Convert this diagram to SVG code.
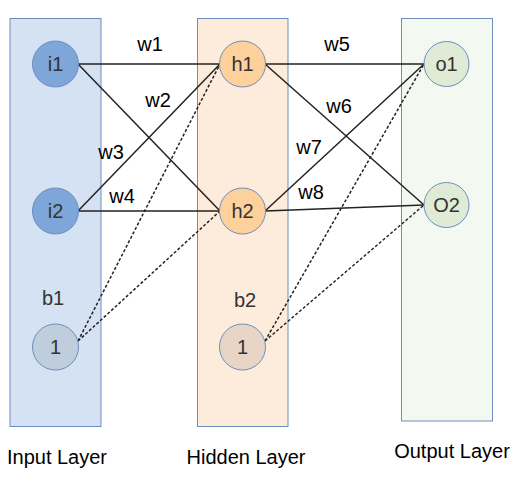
<svg xmlns="http://www.w3.org/2000/svg" width="521" height="481" viewBox="0 0 521 481">
<style>
.layer{stroke:#6c8ebf;stroke-width:1}
.node{stroke:#6c8ebf;stroke-width:1}
.nt{font-family:"Liberation Sans",Arial,sans-serif;font-size:20px;fill:#333;text-anchor:middle;dominant-baseline:central}
.lbl{font-family:"Liberation Sans",Arial,sans-serif;font-size:20px;fill:#000;text-anchor:middle;dominant-baseline:central}
.bl{font-family:"Liberation Sans",Arial,sans-serif;font-size:20px;fill:#333;text-anchor:middle;dominant-baseline:central}
.w{stroke:#222;stroke-width:1.5;fill:none}
.d{stroke:#222;stroke-width:1.5;fill:none;stroke-dasharray:3 2}
</style>
<rect width="521" height="481" fill="#ffffff"/>
<g id="input-layer">
<rect class="layer" x="10" y="18.5" width="91" height="408" fill="#d4e2f3"/>
<text class="lbl" x="57" y="457">Input Layer</text>
</g>
<g id="hidden-layer">
<rect class="layer" x="197.5" y="18.5" width="90.5" height="408" fill="#fdebdc"/>
<text class="lbl" x="246" y="457">Hidden Layer</text>
</g>
<g id="output-layer">
<rect class="layer" x="401.5" y="18.5" width="91" height="402.5" fill="#f3f8f0"/>
<text class="lbl" x="452" y="451">Output Layer</text>
</g>
<g id="connectors">
<line class="w" x1="78" y1="64" x2="220" y2="64"/>
<line class="w" x1="78" y1="64" x2="220" y2="211"/>
<line class="w" x1="78" y1="211" x2="220" y2="64"/>
<line class="w" x1="78" y1="211" x2="220" y2="211"/>
<line class="d" x1="78" y1="341" x2="220" y2="64"/>
<line class="d" x1="78" y1="341" x2="220" y2="211"/>
<line class="w" x1="265" y1="64" x2="424" y2="64"/>
<line class="w" x1="265" y1="64" x2="424" y2="205"/>
<line class="w" x1="265" y1="211" x2="424" y2="64"/>
<line class="w" x1="265" y1="211" x2="424" y2="205"/>
<line class="d" x1="265" y1="341" x2="424" y2="64"/>
<line class="d" x1="265" y1="341" x2="424" y2="205"/>
<text class="lbl" x="150" y="44">w1</text>
<text class="lbl" x="158" y="100">w2</text>
<text class="lbl" x="111" y="152">w3</text>
<text class="lbl" x="122" y="196">w4</text>
<text class="lbl" x="337" y="44">w5</text>
<text class="lbl" x="339" y="106">w6</text>
<text class="lbl" x="309" y="147">w7</text>
<text class="lbl" x="311" y="192">w8</text>
</g>
<g id="i1"><circle class="node" cx="55.5" cy="64" r="23" fill="#7ea6d8"/><text class="nt" x="55.5" y="64">i1</text></g>
<g id="i2"><circle class="node" cx="55.5" cy="211" r="23" fill="#7ea6d8"/><text class="nt" x="55.5" y="211">i2</text></g>
<g id="b1"><text class="bl" x="53" y="298">b1</text><circle class="node" cx="55.5" cy="347" r="23" fill="#bfcddd"/><text class="nt" x="55.5" y="347">1</text></g>
<g id="h1"><circle class="node" cx="242.5" cy="64" r="23" fill="#fdd09c"/><text class="nt" x="242.5" y="64">h1</text></g>
<g id="h2"><circle class="node" cx="242.5" cy="211" r="23" fill="#fdd09c"/><text class="nt" x="242.5" y="211">h2</text></g>
<g id="b2"><text class="bl" x="245" y="300">b2</text><circle class="node" cx="242.5" cy="347" r="23" fill="#e8d5c6"/><text class="nt" x="242.5" y="347">1</text></g>
<g id="o1"><circle class="node" cx="446.5" cy="64" r="22.5" fill="#e0ebd5"/><text class="nt" x="446.5" y="64">o1</text></g>
<g id="o2"><circle class="node" cx="446.5" cy="205" r="22.5" fill="#e0ebd5"/><text class="nt" x="446.5" y="205">O2</text></g>
</svg>
